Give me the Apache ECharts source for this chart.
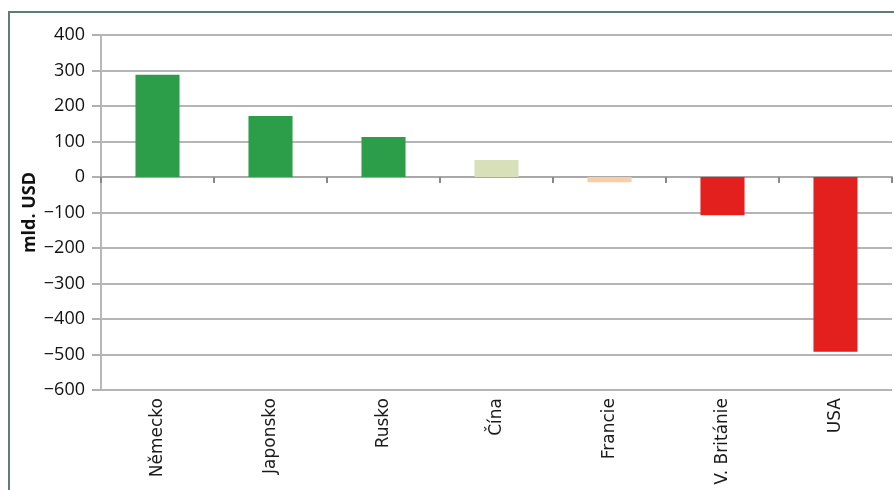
<!DOCTYPE html>
<html><head><meta charset="utf-8">
<script src="https://cdn.jsdelivr.net/npm/echarts@6/dist/echarts.min.js"></script>
<style>html,body{margin:0;padding:0;background:#fff}#c{width:894px;height:490px;position:relative}
#frame{position:absolute;left:8px;top:11px;right:-10px;bottom:-10px;border-left:2px solid #5f7d76;border-top:2px solid #5f7d76;pointer-events:none}</style>
</head><body><div id="c"></div><div id="frame"></div>
<script>
const categories = ['Německo','Japonsko','Rusko','Čína','Francie','V. Británie','USA'];
const values = [288, 172, 113, 48, -15, -108, -492];
const barColors = ['#2c9d48','#2c9d48','#2c9d48','#d7e0b8','#f9cda6','#e3201e','#e3201e'];
const yTicks = {min: -600, max: 400, interval: 100};
const yName = 'mld. USD';

const chart = echarts.init(document.getElementById('c'), null, {renderer:'canvas'});
chart.setOption({
  animation:false,
  grid:{left:101, right:2, top:35, bottom:100, containLabel:false, outerBoundsMode:'none'},
  xAxis:[{
    type:'category', data:categories, position:'bottom',
    axisLine:{show:false, onZero:false}, axisTick:{show:false},
    axisLabel:{rotate:90, margin:8, fontFamily:'DejaVu Sans', fontSize:17, color:'#1a1a1a', interval:0}
  },{
    type:'category', data:categories, position:'bottom',
    axisLine:{show:true, onZero:true, lineStyle:{color:'#a8a8a8', width:2}},
    axisTick:{show:true, length:6, lineStyle:{color:'#888', width:2}},
    axisLabel:{show:false}
  }],
  yAxis:{
    type:'value', min:yTicks.min, max:yTicks.max, interval:yTicks.interval,
    name:yName, nameLocation:'middle', nameGap:62, nameRotate:90, nameMoveOverlap:false,
    nameTextStyle:{fontFamily:'Open Sans', fontWeight:'bold', fontSize:18, color:'#111'},
    axisLine:{show:true, lineStyle:{color:'#b8b8b8', width:2}},
    axisTick:{show:true, length:9, lineStyle:{color:'#b0b0b0', width:2}},
    splitLine:{show:true, lineStyle:{color:'#b5b5b5', width:2}},
    axisLabel:{margin:16, fontFamily:'Open Sans', fontSize:18, color:'#111',
      formatter:v => (v<0 ? '\u2212' + Math.abs(v) : String(v))}
  },
  series:[{
    type:'bar', xAxisIndex:0, barWidth:'39%',
    data: values.map((v,i)=>({value:v, itemStyle:{color:barColors[i]}}))
  }]
});
</script></body></html>
